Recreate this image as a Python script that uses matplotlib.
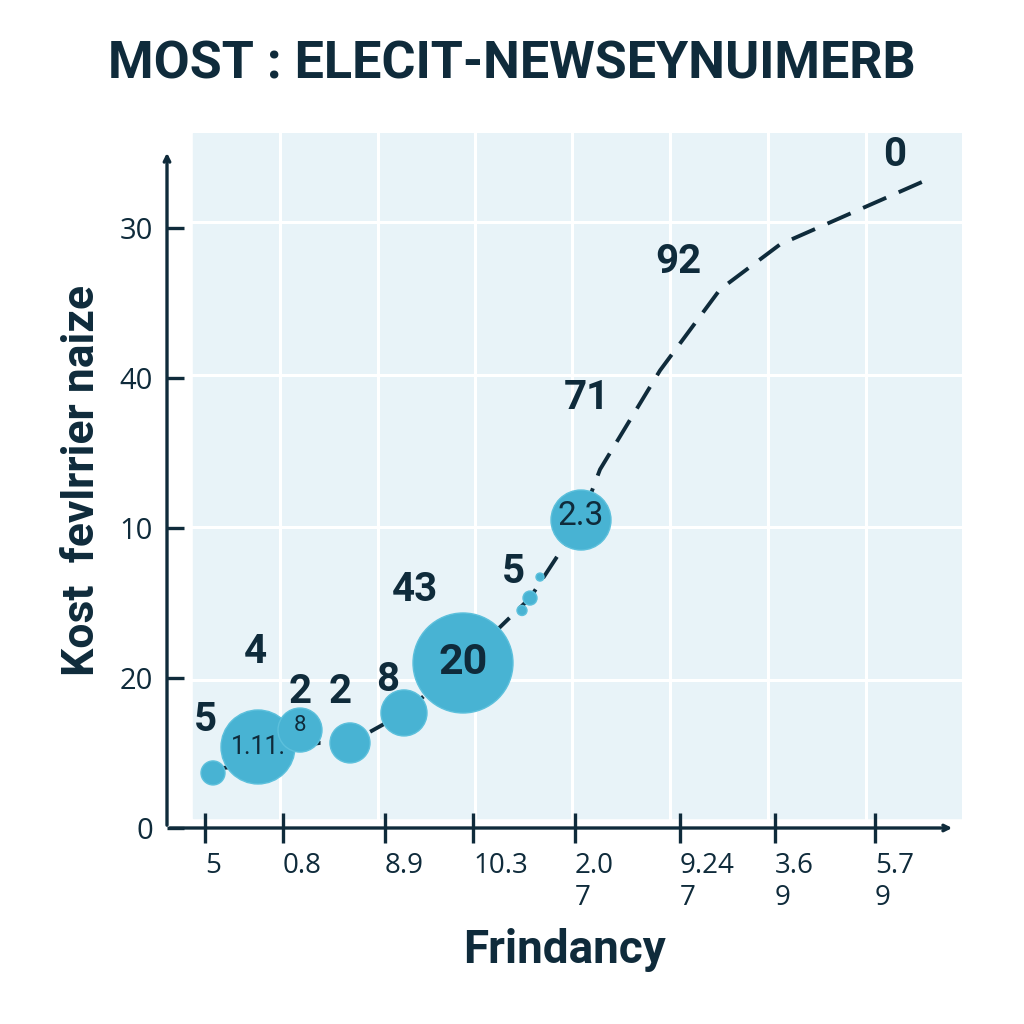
import numpy as np
import matplotlib.pyplot as plt
from matplotlib.patches import Rectangle

# 数据
bubble_x = [4.6, 9.1, 13.3, 18.3, 23.7, 29.6, 35.5, 36.3, 37.3, 41.4]
bubble_y = [3.67, 5.4, 6.53, 5.67, 7.67, 11.0, 14.5, 15.33, 16.73, 20.53]
bubble_size = [12, 37, 22, 20, 23, 50, 5, 7, 4, 30]

line_x = [5.5, 9.0, 13.3, 15.3, 18.3, 23.7, 29.6, 36.3, 41.4, 43.3, 49.3, 55.3, 61.3, 76.3]
line_y = [4.0, 4.2, 5.5, 5.67, 5.67, 7.67, 11.0, 15.33, 20.53, 23.9, 30.5, 35.9, 38.9, 43.3]

label_text = ['5', '4', '2', '2', '8', '43', '5', '71', '92', '0']
label_x = [3.8, 8.8, 13.3, 17.3, 22.1, 24.8, 34.6, 42.0, 51.1, 72.8]
label_y = [7.2, 11.73, 9.07, 9.07, 9.87, 15.87, 17.07, 28.67, 37.73, 44.87]

inner_text = ['1.11.', '8', '20', '2.3']
inner_x = [9.1, 13.3, 29.6, 41.4]
inner_y = [5.4, 6.8, 11.0, 20.8]

xtick_pos = [3.8, 11.6, 21.8, 30.6, 40.8, 51.3, 60.8, 70.8]
xtick_lab = ['5', '0.8', '8.9', '10.3', '2.0\n7', '9.24\n7', '3.6\n9', '5.7\n9']
ytick_pos = [0, 10, 20, 30, 40]
ytick_lab = ['0', '20', '10', '40', '30']

grid_x = [11.3, 21.1, 30.8, 40.5, 50.3, 60.1, 69.9]
grid_y = [9.87, 20.07, 30.2, 40.4]

navy = '#0f2b3b'
blue = '#48b3d3'
plt.rcParams['font.family'] = ['Open Sans', 'DejaVu Sans']

fig = plt.figure(figsize=(10.24, 10.24), dpi=100)
ax = fig.add_axes([167/1024, 196/1024, 795/1024, 695/1024])
ax.set_xlim(0, 79.5)
ax.set_ylim(0, 46.33)
for s in ax.spines.values():
    s.set_visible(False)

# 背景和网格
ax.add_patch(Rectangle((2.6, 0.67), 76.9, 45.66, color='#e8f3f8', zorder=0))
for gx in grid_x:
    ax.plot([gx, gx], [0.67, 46.33], color='white', lw=2.2, zorder=1)
for gy in grid_y:
    ax.plot([2.6, 79.5], [gy, gy], color='white', lw=2.2, zorder=1)

# 虚线和气泡
ax.plot(line_x, line_y, color=navy, lw=2.8, dashes=(6.5, 3.5), zorder=2)
s = (np.array(bubble_size) * 1.44) ** 2
ax.scatter(bubble_x, bubble_y, s=s, color=blue, edgecolors='#5cc0dc', linewidths=1, zorder=3)

for t, x, y in zip(label_text, label_x, label_y):
    ax.text(x, y, t, ha='center', va='center', fontsize=29, fontweight='bold', color=navy,
            fontfamily='Roboto', zorder=4)
inner_fs = [18, 16, 31, 24]
inner_fw = ['normal', 'normal', 'bold', 'normal']
for t, x, y, fs, fw in zip(inner_text, inner_x, inner_y, inner_fs, inner_fw):
    ax.text(x, y, t, ha='center', va='center', fontsize=fs, fontweight=fw, color=navy,
            fontfamily='Roboto', zorder=4)

# 坐标轴
ax.annotate('', xy=(0, 678/695), xytext=(0, 0), xycoords='axes fraction',
            arrowprops=dict(arrowstyle='->', color=navy, lw=2.4), annotation_clip=False)
ax.annotate('', xy=(788/795, 0), xytext=(0, 0), xycoords='axes fraction',
            arrowprops=dict(arrowstyle='->', color=navy, lw=2.4), annotation_clip=False)

ax.set_xticks(xtick_pos)
ax.set_xticklabels(xtick_lab, ha='left', multialignment='left')
ax.set_yticks(ytick_pos)
ax.set_yticklabels(ytick_lab)
ax.tick_params(axis='x', direction='inout', length=22, width=2.4, color=navy,
               labelsize=20, labelcolor=navy, pad=6)
ax.tick_params(axis='y', direction='in', length=12, width=2.4, color=navy,
               labelsize=21, labelcolor=navy, pad=10)

ax.set_xlabel('Frindancy', fontsize=33, fontweight='bold', color=navy, labelpad=12, fontfamily='Roboto')
ax.set_ylabel('Kost  fevlrrier naize', fontsize=32, fontweight='bold', color=navy, labelpad=12,
              fontfamily='Roboto')
fig.text(0.5, 0.937, 'MOST : ELECIT-NEWSEYNUIMERB', ha='center', va='center', fontsize=37.5,
         fontweight='bold', color=navy, fontfamily='Roboto')

fig.savefig('out.png', dpi=100, facecolor='white')
